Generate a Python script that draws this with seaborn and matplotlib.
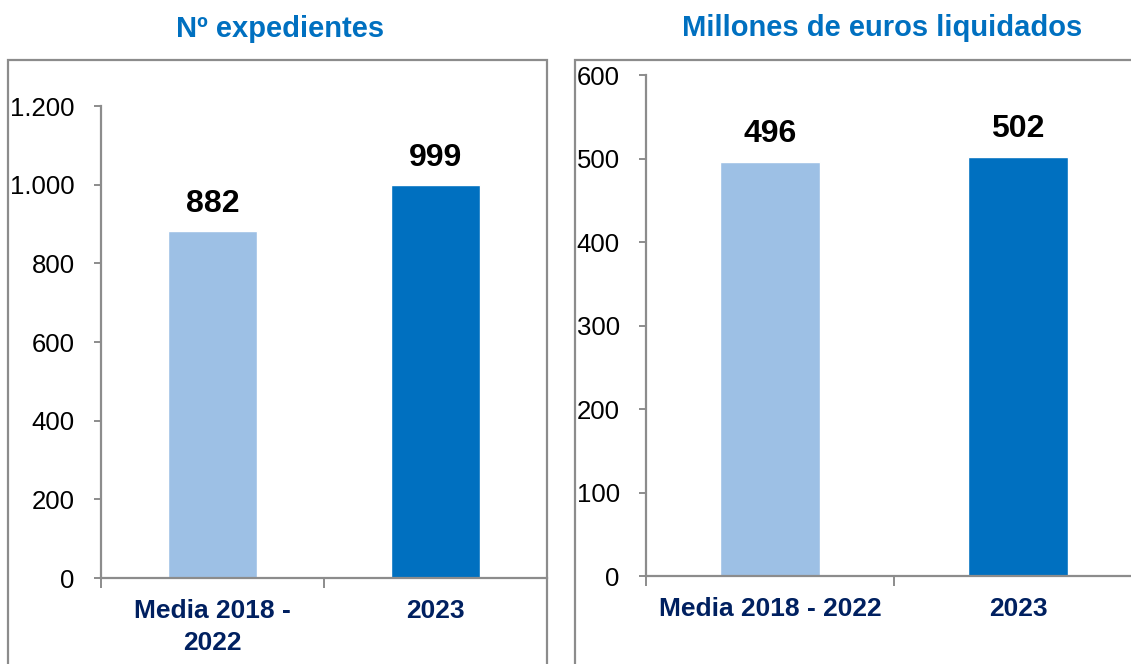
import numpy as np
import pandas as pd
import matplotlib
matplotlib.use("Agg")
import matplotlib.pyplot as plt
from matplotlib.patches import Rectangle
from matplotlib.ticker import FuncFormatter, FixedLocator
import seaborn as sns

# data
categories = ["Media 2018 - 2022", "2023"]
labels_left = ["Media 2018 -\n2022", "2023"]
labels_right = ["Media 2018 - 2022", "2023"]
expedientes = [882, 999]
millones = [496, 502]
titles = ["Nº expedientes", "Millones de euros liquidados"]

bar_colors = ["#9DC0E5", "#0070C0"]
title_color = "#0070C0"
label_color = "#002060"
gray = "#8C8C8C"

sns.set_style("white")
plt.rcParams['font.family'] = ['Liberation Sans', 'DejaVu Sans']

fig = plt.figure(figsize=(11.31, 6.64), dpi=100)

# outer frames of each panel
fig.patches.append(Rectangle((0.0071, -0.1), 0.4766, 1.0096, transform=fig.transFigure,
                             fill=False, edgecolor=gray, linewidth=1.6, zorder=0))
fig.patches.append(Rectangle((0.5084, -0.1), 0.6, 1.0096, transform=fig.transFigure,
                             fill=False, edgecolor=gray, linewidth=1.6, zorder=0))

ax1 = fig.add_axes([0.0893, 0.1295, 0.3943, 0.7108])
ax2 = fig.add_axes([0.5712, 0.1325, 0.4386, 0.7545])


def thousands(v, pos):
    return f"{int(v):,}".replace(",", ".")


def draw(ax, values, xlabels, ymax, step):
    df = pd.DataFrame({"cat": categories, "val": values})
    sns.barplot(data=df, x="cat", y="val", hue="cat", palette=bar_colors,
                width=0.4, legend=False, ax=ax, saturation=1)
    ax.set_xlim(-0.5, 1.5)
    ax.set_ylim(0, ymax)
    ax.set_xlabel("")
    ax.set_ylabel("")
    for s in ["top", "right"]:
        ax.spines[s].set_visible(False)
    for s in ["left", "bottom"]:
        ax.spines[s].set_color(gray)
        ax.spines[s].set_linewidth(1.6)
    ax.set_yticks(np.arange(0, ymax + 1, step))
    ax.yaxis.set_major_formatter(FuncFormatter(thousands))
    ax.tick_params(axis="y", direction="out", length=5, width=1.4, color=gray,
                   labelsize=18.5, labelcolor="black", pad=14, left=True)
    # ticks on category boundaries, labels at centers
    ax.xaxis.set_major_locator(FixedLocator([-0.5, 0.5, 1.5]))
    ax.xaxis.set_minor_locator(FixedLocator([0, 1]))
    ax.set_xticklabels([], minor=False)
    ax.set_xticklabels(xlabels, minor=True, fontsize=19, fontweight="bold",
                       color=label_color, linespacing=1.45, va="top")
    ax.tick_params(axis="x", which="major", direction="out", length=7, width=1.4,
                   color=gray, bottom=True)
    ax.tick_params(axis="x", which="minor", length=0, pad=15)
    for i, v in enumerate(values):
        ax.annotate(f"{v}", (i, v), xytext=(0, 9), textcoords="offset points",
                    ha="center", va="bottom", fontsize=23, fontweight="bold",
                    color="black")


draw(ax1, expedientes, labels_left, 1200, 200)
draw(ax2, millones, labels_right, 600, 100)

fig.text(0.248, 0.956, titles[0], ha="center", va="center", fontsize=21,
         fontweight="bold", color=title_color)
fig.text(0.780, 0.958, titles[1], ha="center", va="center", fontsize=21,
         fontweight="bold", color=title_color)

fig.savefig("out.png", dpi=100)
